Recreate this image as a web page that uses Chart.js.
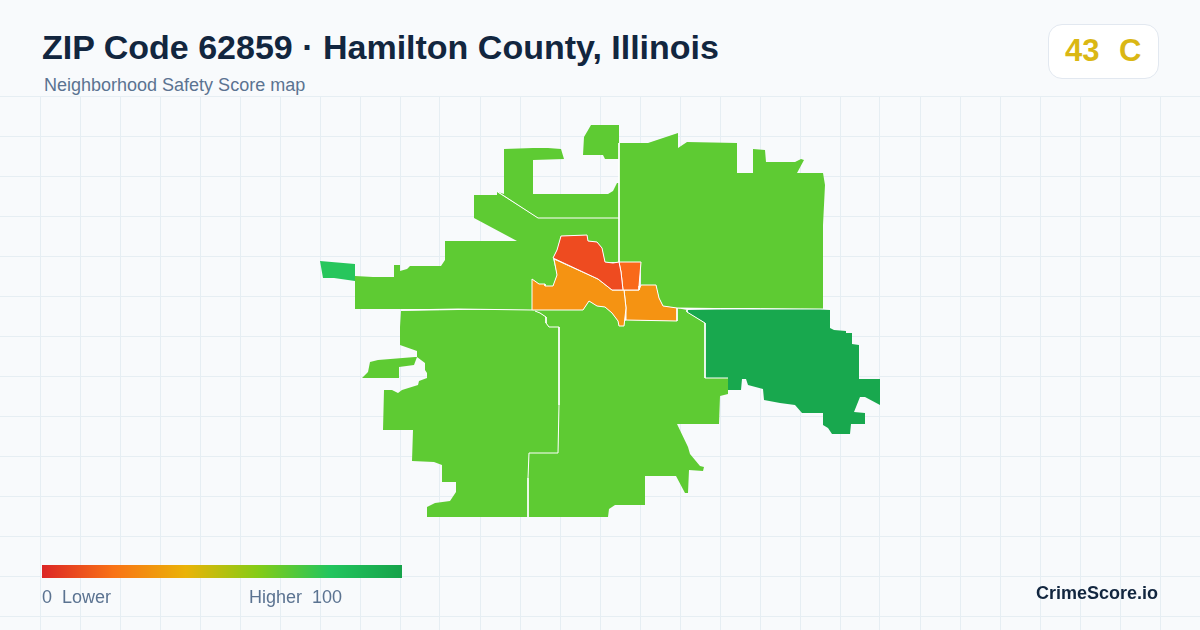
<!DOCTYPE html>
<html>
<head>
<meta charset="utf-8">
<title>ZIP Code 62859</title>
<script src="https://cdn.jsdelivr.net/npm/chart.js@4"></script>
<style>
  html, body { margin: 0; padding: 0; }
  body { width: 1200px; height: 630px; background: #f8fafc; overflow: hidden; position: relative; font-family: "Liberation Sans", Arial, sans-serif; }
  #mapWrap { position: absolute; left: 0; top: 96px; width: 1200px; height: 534px; }
  h1 { position: absolute; left: 42px; top: 27px; margin: 0; font-size: 34px; line-height: 40px; font-weight: 700; color: #12263f; white-space: pre; }
  #sub { position: absolute; left: 44px; top: 75px; font-size: 18px; line-height: 20px; color: #5b7391; white-space: pre; }
  #badge { position: absolute; left: 1048px; top: 24px; width: 109px; height: 53px; background: #fff; border: 1px solid #e2e8f0; border-radius: 14px; }
  #badge span { position: absolute; top: 9px; font-size: 31px; line-height: 34px; font-weight: 700; color: #dab714; }
  #bar { position: absolute; left: 42px; top: 565px; width: 360px; height: 13px; background: linear-gradient(90deg, #dc2626 0%, #f97316 20%, #eab308 40%, #84cc16 60%, #22c55e 80%, #16a34a 100%); }
  .lg { position: absolute; top: 587px; font-size: 18px; line-height: 20px; color: #5b7391; white-space: pre; }
  #brand { position: absolute; right: 42px; top: 582px; font-size: 18px; line-height: 22px; font-weight: 700; color: #12263f; }
</style>
</head>
<body>
<div id="mapWrap"><canvas id="map"></canvas></div>
<h1>ZIP Code 62859 · Hamilton County, Illinois</h1>
<div id="sub">Neighborhood Safety Score map</div>
<div id="badge"><span style="left:16px">43</span><span style="left:70px">C</span></div>
<div id="bar"></div>
<div class="lg" style="left:42px">0  Lower</div>
<div class="lg" style="left:249px">Higher  100</div>
<div id="brand">CrimeScore.io</div>

<script>
// Neighborhood outlines as [x, y] map coordinates
const westPatch = [[320,261],[355,264],[355,281],[334,278],[323,278]];
const west = [[355,309],[355,276],[373,277],[394,277],[394,265],[400,265],[400,271],[407,269],[410,266],[441,266],[445,260],[445,241],[517,241],[474,218],[474,195],[497,195],[497,192],[538,218],[619,218],[619,262],[605,262],[602,248],[597,242],[588,241],[587,235],[561,236],[557,250],[553,258],[557,275],[553,286],[545,286],[545,284],[539,284],[532,279],[532,310],[458,309]];
const northPatch = [[591,125],[619,125],[619,159],[605,159],[603,155],[583,155],[584,137]];
const north = [[504,149],[533,148],[548,148],[561,149],[564,159],[533,160],[533,194],[608,194],[613,191],[617,183],[619,183],[619,218],[538,218],[498,192],[504,194]];
const east = [[620,143],[648,143],[678,133],[678,148],[687,142],[737,143],[737,173],[753,173],[753,149],[765,150],[766,162],[795,162],[801,159],[804,160],[797,173],[823,173],[825,185],[823,225],[823,309],[752,308],[677,308],[663,306],[659,298],[656,285],[641,285],[641,262],[619,262],[619,143]];
const southWest = [[401,311],[400,327],[400,345],[417,351],[417,357],[425,363],[425,370],[427,373],[427,378],[419,381],[418,385],[402,390],[398,393],[392,390],[384,390],[383,430],[413,430],[412,461],[434,462],[442,465],[442,482],[456,482],[456,492],[450,501],[435,503],[427,507],[427,517],[528,517],[528,478],[529,453],[558,453],[559,405],[559,327],[549,327],[546,323],[546,317],[540,313],[535,311],[532,310],[458,310]];
const westIsland = [[370,362],[378,360],[415,357],[417,357],[414,365],[399,367],[399,378],[362,378],[368,372]];
const southCentral = [[559,327],[549,327],[546,323],[546,317],[540,313],[535,311],[532,310],[547,310],[583,310],[589,301],[597,306],[605,307],[612,313],[618,321],[619,326],[624,326],[625,320],[677,321],[677,308],[687,310],[687,312],[705,323],[705,378],[728,378],[728,394],[720,396],[719,424],[677,424],[688,447],[690,454],[700,466],[704,467],[703,471],[689,470],[688,493],[685,493],[676,476],[645,476],[645,505],[615,505],[609,509],[608,517],[528,517],[528,478],[529,453],[558,453],[559,405]];
const southEast = [[687,310],[752,309],[783,309],[820,309],[830,310],[830,328],[834,330],[846,331],[846,333],[852,333],[852,344],[859,345],[859,379],[880,379],[880,405],[865,397],[860,397],[854,412],[865,413],[865,424],[851,424],[850,434],[832,434],[828,428],[823,425],[823,413],[802,413],[795,405],[780,403],[764,400],[763,389],[748,385],[746,379],[742,379],[741,390],[728,390],[728,378],[705,378],[705,323],[687,312]];
const centerRed = [[561,236],[587,235],[588,241],[597,242],[602,248],[605,262],[613,263],[619,262],[621,272],[623,290],[612,290],[598,279],[553,258],[557,250]];
const centerRedOrange = [[619,262],[641,262],[639,286],[639,290],[623,290],[621,272]];
const centerOrangeWest = [[554,259],[598,279],[612,290],[624,290],[626,308],[624,326],[619,326],[618,321],[612,313],[605,307],[597,306],[589,301],[583,310],[547,310],[532,310],[532,279],[539,284],[545,284],[545,286],[553,286],[557,275]];
const centerOrangeEast = [[624,290],[639,290],[641,285],[656,285],[659,298],[663,306],[677,308],[677,321],[625,320],[626,308]];

// Only the shared borders show white; the outer edges have none
const seamNorth = [[498,192],[538,218],[619,218]];
const seamMeridian = [[619,143],[619,262]];
const seamWest = [[401,310],[458,309],[532,310]];
const seamSouth = [[535,311],[540,313],[546,317],[546,323],[549,327],[559,327],[559,405],[558,453],[529,453],[528,478],[528,517]];
const seamEastTop = [[677,308],[752,309],[830,309]];
const seamEast = [[687,310],[687,312],[705,323],[705,378],[728,378]];

const outlined = [centerRed, centerRedOrange, centerOrangeWest, centerOrangeEast];
const outlinedColors = ["#ee4b20", "#f9691a", "#f59312", "#f59312"];
const seams = [seamNorth, seamMeridian, seamWest, seamSouth, seamEastTop, seamEast];
const plain = [westPatch, west, northPatch, north, east, southWest, westIsland, southCentral, southEast];
const plainColors = ["#27c65c", "#5ecb33", "#5ecb33", "#5ecb33", "#5ecb33", "#5ecb33", "#5ecb33", "#5ecb33", "#18a84e"];

// Background grid
const gridX = [40, 80, 120, 160, 200, 240, 280, 320, 360, 400, 440, 480, 520, 560, 600, 640, 680, 720, 760, 800, 840, 880, 920, 960, 1000, 1040, 1080, 1120, 1160];
const gridY = [96, 136, 176, 216, 256, 296, 336, 376, 416, 456, 496, 536, 576, 616];

function toPoints(pts) {
  return pts.map((p) => ({ x: p[0], y: p[1] }));
}

function regionDataset(pts, color, borderWidth) {
  return {
    data: toPoints(pts.concat([pts[0]])),
    showLine: true,
    fill: "shape",
    backgroundColor: color,
    borderColor: borderWidth ? "#ffffff" : color,
    borderWidth: borderWidth,
    pointRadius: 0,
    tension: 0
  };
}

function seamDataset(pts) {
  return {
    data: toPoints(pts),
    showLine: true,
    fill: false,
    borderColor: "#ffffff",
    borderWidth: 1,
    pointRadius: 0,
    tension: 0
  };
}

// Chart.js paints the first dataset last, so the center goes first
const datasets = [
  ...outlined.map((pts, i) => regionDataset(pts, outlinedColors[i], 1)),
  ...seams.map(seamDataset),
  ...plain.map((pts, i) => regionDataset(pts, plainColors[i], 0))
];

new Chart(document.getElementById("map"), {
  type: "scatter",
  data: { datasets: datasets },
  options: {
    responsive: true,
    maintainAspectRatio: false,
    animation: false,
    layout: { padding: 0 },
    plugins: { legend: { display: false }, tooltip: { enabled: false } },
    scales: {
      x: {
        min: 0,
        max: 1200,
        afterBuildTicks: (axis) => { axis.ticks = gridX.map((v) => ({ value: v })); },
        ticks: { display: false },
        border: { display: false },
        grid: { color: "#e6eef3", lineWidth: 1, drawTicks: false }
      },
      y: {
        min: 96,
        max: 630,
        reverse: true,
        afterBuildTicks: (axis) => { axis.ticks = gridY.map((v) => ({ value: v })); },
        ticks: { display: false },
        border: { display: false },
        grid: { color: "#e6eef3", lineWidth: 1, drawTicks: false }
      }
    }
  }
});
</script>
</body>
</html>
